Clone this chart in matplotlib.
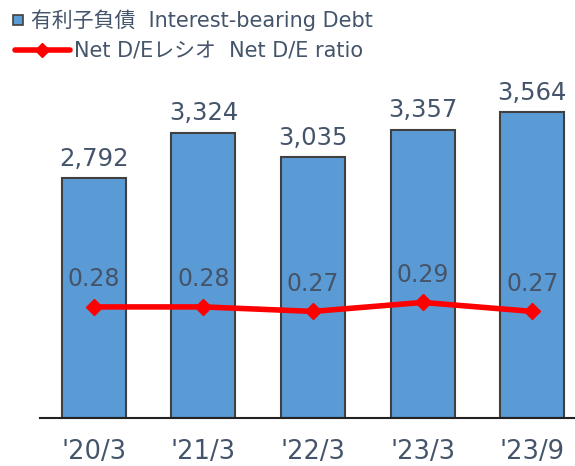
"""Interest-bearing debt bars with Net D/E ratio line."""

import matplotlib.pyplot as plt
from matplotlib.lines import Line2D
from matplotlib.patches import Rectangle

plt.rcParams["font.family"] = ["DejaVu Sans", "Noto Sans CJK JP"]

periods = ["'20/3", "'21/3", "'22/3", "'23/3", "'23/9"]
debt = [2792, 3324, 3035, 3357, 3564]
de_ratio = [0.28, 0.28, 0.27, 0.29, 0.27]

TEXT = "#44546A"
BAR = "#5B9BD5"
W, H = 575, 466

fig = plt.figure(figsize=(W / 100, H / 100), dpi=100)
ax = fig.add_axes([40 / W, 48 / H, 535 / W, 358 / H])
x = range(len(periods))

ax.bar(x, debt, width=0.585, color=BAR, edgecolor="#404040", linewidth=1.5, zorder=2)
for xi, v in zip(x, debt):
    ax.text(xi, v + 85, f"{v:,}", ha="center", va="bottom", fontsize=17.5, color=TEXT)

ax.set_xlim(-0.49, 4.39)
ax.set_ylim(0, 4170)
ax.set_yticks([])
for side in ("left", "right", "top"):
    ax.spines[side].set_visible(False)
ax.spines["bottom"].set_linewidth(1.5)
ax.spines["bottom"].set_color("#222222")
ax.set_xticks(list(x))
ax.set_xticklabels(periods, fontsize=18.5, color=TEXT)
ax.tick_params(axis="x", length=0, pad=15)

ax2 = ax.twinx()
ax2.plot(x, de_ratio, color="#FF0000", linewidth=4, marker="D", markersize=8, zorder=3)
for xi, v in zip(x, de_ratio):
    ax2.text(xi, v + 0.035, f"{v:.2f}", ha="center", va="bottom", fontsize=17, color=TEXT)
ax2.set_ylim(0.033, 0.829)
ax2.set_yticks([])
for side in ("left", "right", "top", "bottom"):
    ax2.spines[side].set_visible(False)

# legend drawn by hand: the two entries are not aligned in the original
fig.add_artist(Rectangle((13 / W, 1 - 25 / H), 10 / W, 10 / H, transform=fig.transFigure,
                         facecolor=BAR, edgecolor="#404040", linewidth=1.2))
fig.text(31 / W, 1 - 20 / H, "有利子負債  Interest-bearing Debt", fontsize=15,
         color=TEXT, va="center", ha="left")
fig.add_artist(Line2D([15 / W, 70 / W], [1 - 50 / H] * 2, transform=fig.transFigure,
                      color="#FF0000", linewidth=4, solid_capstyle="round"))
fig.add_artist(Line2D([42 / W], [1 - 50 / H], transform=fig.transFigure, color="#FF0000",
                      marker="D", markersize=7, linestyle="none"))
fig.text(74 / W, 1 - 50 / H, "Net D/Eレシオ  Net D/E ratio", fontsize=15,
         color=TEXT, va="center", ha="left")

fig.savefig("out.png", dpi=100)
